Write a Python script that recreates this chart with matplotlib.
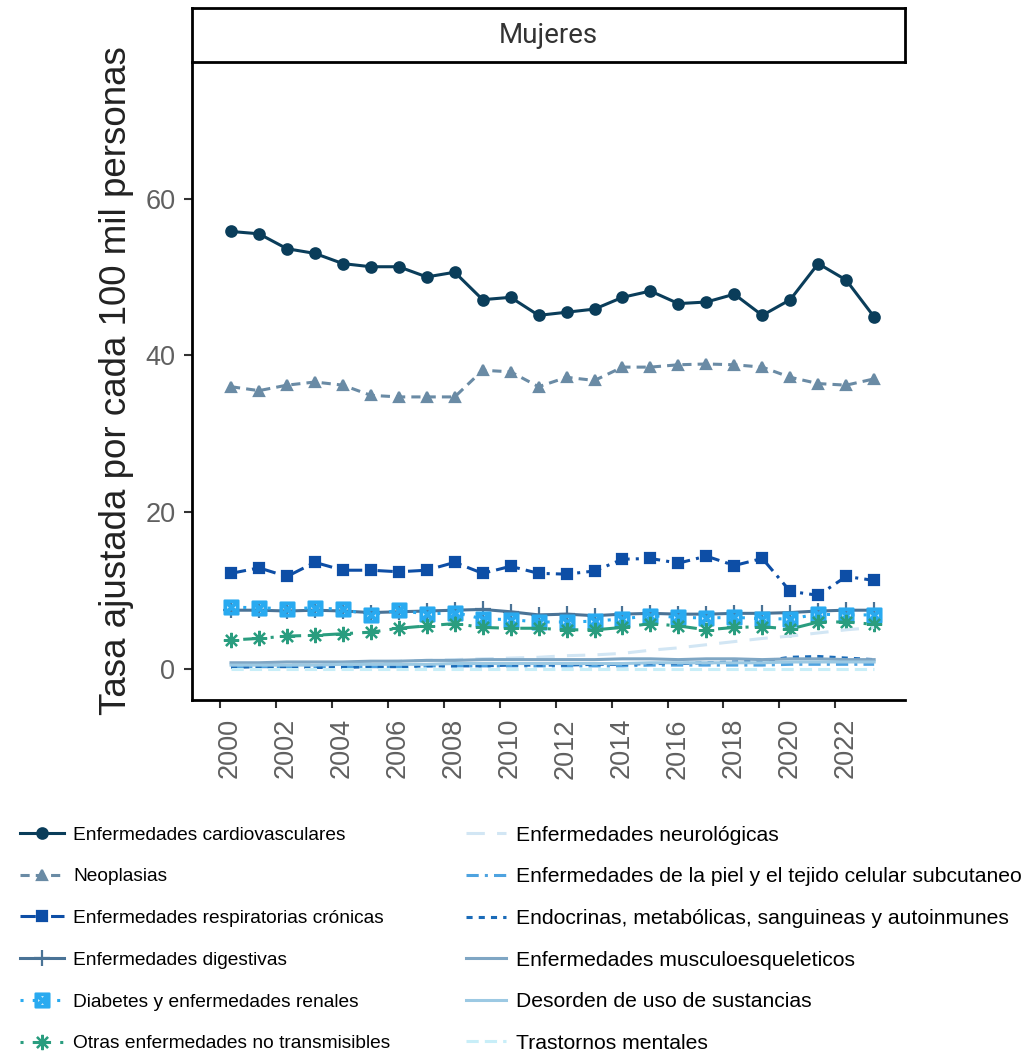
import numpy as np
import matplotlib
matplotlib.use("Agg")
from matplotlib import pyplot as plt
from matplotlib.transforms import ScaledTranslation

years = np.arange(2000, 2024)

cardiovasculares = [55.8, 55.5, 53.6, 53.0, 51.7, 51.3, 51.3, 50.0, 50.6, 47.1, 47.4, 45.1,
                    45.5, 45.9, 47.4, 48.2, 46.6, 46.8, 47.8, 45.1, 47.1, 51.7, 49.6, 44.9]
neoplasias = [36.0, 35.5, 36.2, 36.6, 36.2, 34.9, 34.7, 34.7, 34.7, 38.1, 37.9, 36.0,
              37.2, 36.8, 38.5, 38.5, 38.8, 38.9, 38.8, 38.5, 37.2, 36.4, 36.2, 37.0]
respiratorias = [12.2, 12.9, 11.8, 13.6, 12.6, 12.6, 12.4, 12.6, 13.6, 12.2, 13.1, 12.2,
                 12.1, 12.5, 14.0, 14.1, 13.5, 14.4, 13.2, 14.1, 9.9, 9.4, 11.8, 11.3]
digestivas = [7.5, 7.5, 7.4, 7.5, 7.4, 7.2, 7.3, 7.4, 7.5, 7.6, 7.3, 6.9,
              7.0, 6.8, 7.0, 7.1, 7.0, 7.0, 7.1, 7.1, 7.2, 7.4, 7.5, 7.5]
diabetes = [7.9, 7.8, 7.7, 7.8, 7.6, 6.9, 7.5, 7.0, 7.2, 6.4, 6.3, 6.0,
            6.0, 6.1, 6.4, 6.8, 6.6, 6.5, 6.6, 6.4, 6.4, 7.0, 6.9, 6.9]
otras = [3.7, 3.9, 4.2, 4.3, 4.5, 4.7, 5.2, 5.5, 5.8, 5.3, 5.2, 5.2,
         5.0, 5.0, 5.3, 5.8, 5.5, 5.0, 5.3, 5.4, 5.1, 6.0, 6.0, 5.7]
neurologicas = [0.4, 0.5, 0.6, 0.7, 0.8, 0.9, 1.0, 1.1, 1.2, 1.3, 1.4, 1.5,
                1.7, 1.8, 2.0, 2.4, 2.7, 3.1, 3.5, 3.9, 4.2, 4.6, 5.0, 5.3]
piel = [0.3, 0.3, 0.3, 0.3, 0.3, 0.3, 0.3, 0.4, 0.4, 0.4, 0.4, 0.4,
        0.4, 0.4, 0.4, 0.5, 0.5, 0.5, 0.5, 0.5, 0.6, 0.6, 0.6, 0.6]
endocrinas = [0.2, 0.3, 0.3, 0.2, 0.2, 0.3, 0.3, 0.4, 0.4, 0.4, 0.5, 0.5,
              0.5, 0.6, 0.6, 0.7, 0.7, 0.8, 0.9, 1.0, 1.5, 1.6, 1.4, 1.2]
musculo = [0.8, 0.8, 0.9, 0.9, 0.9, 1.0, 1.0, 1.1, 1.1, 1.2, 1.2, 1.2,
           1.2, 1.2, 1.3, 1.3, 1.2, 1.3, 1.3, 1.2, 1.3, 1.3, 1.2, 1.2]
sustancias = [0.5, 0.5, 0.5, 0.5, 0.6, 0.6, 0.6, 0.6, 0.7, 0.7, 0.7, 0.7,
              0.7, 0.7, 0.7, 0.8, 0.8, 0.8, 0.8, 0.8, 0.9, 0.9, 0.9, 0.9]
mentales = [0.0, 0.0, 0.0, 0.0, 0.0, 0.0, 0.0, 0.0, 0.0, 0.0, 0.0, 0.0,
            0.0, 0.0, 0.0, 0.0, 0.0, 0.0, 0.0, 0.0, 0.0, 0.0, 0.0, 0.0]

series = [
    ("Enfermedades cardiovasculares", cardiovasculares, "#0a3d5a", "-", "o", 7.5),
    ("Neoplasias", neoplasias, "#6a8ba5", (0, (3, 2)), "^", 7.5),
    ("Enfermedades respiratorias crónicas", respiratorias, "#0d4ea6", (0, (5, 2, 1, 2)), "s", 7),
    ("Enfermedades digestivas", digestivas, "#4a7396", "-", "+", 11),
    ("Diabetes y enfermedades renales", diabetes, "#29aaf0", (0, (1, 3)), r"$\boxtimes$", 10),
    ("Otras enfermedades no transmisibles", otras, "#2a9d7f", (0, (1, 3, 6, 3)), (8, 2, 0), 11),
    ("Enfermedades neurológicas", neurologicas, "#d2e6f4", (0, (6, 4)), None, 0),
    ("Enfermedades de la piel y el tejido celular subcutaneo", piel, "#4ea3e0", (0, (4, 2, 1, 2)), None, 0),
    ("Endocrinas, metabólicas, sanguineas y autoinmunes", endocrinas, "#1a6bb8", (0, (2, 2)), None, 0),
    ("Enfermedades musculoesqueleticos", musculo, "#7fa6c4", "-", None, 0),
    ("Desorden de uso de sustancias", sustancias, "#9cc9e3", "-", None, 0),
    ("Trastornos mentales", mentales, "#c8eef8", (0, (4, 2)), None, 0),
]

plt.rcParams['font.family'] = ['Liberation Sans', 'DejaVu Sans']

fig = plt.figure(figsize=(10.22, 10.52), dpi=100)
ax = fig.add_axes([0.188, 0.3346, 0.6977, 0.6064])

# points sit a bit after the year mark, like in the source chart
x = years + 0.39
handles = []
for label, vals, color, ls, mk, ms in series:
    h, = ax.plot(x, vals, color=color, linestyle=ls, marker=mk, markersize=ms,
                 linewidth=2.2, markeredgewidth=1.6 if mk else 0, label=label)
    handles.append(h)

ax.set_xlim(1999.0, 2024.5)
ax.set_ylim(-3.95, 77.4)
ax.set_xticks(np.arange(2000, 2023, 2))
ax.set_yticks([0, 20, 40, 60])
ax.tick_params(axis='x', labelrotation=90, labelsize=19.5, length=6, width=1.5, color='#333333', pad=7)
ax.tick_params(axis='y', labelsize=19.5, length=6, width=1.5, color='#333333', pad=6)
shift = ScaledTranslation(10 / 100, 0, fig.dpi_scale_trans)
for t in ax.get_xticklabels():
    t.set_transform(t.get_transform() + shift)
for t in ax.get_xticklabels() + ax.get_yticklabels():
    t.set_color('#606060')
ax.spines['top'].set_visible(False)
ax.spines['right'].set_visible(False)
ax.spines['left'].set_linewidth(2)
ax.spines['bottom'].set_linewidth(2)
ax.set_ylabel("Tasa ajustada por cada 100 mil personas", fontsize=26.5, color='#222222', labelpad=8)

# panel strip
strip = fig.add_axes([0.188, 0.941, 0.6977, 0.051])
strip.set_xticks([])
strip.set_yticks([])
for s in strip.spines.values():
    s.set_linewidth(2)
strip.text(0.5, 0.5, "Mujeres", ha='center', va='center', fontsize=20,
           color='#333333', family=['Roboto', 'DejaVu Sans'])

leg1 = fig.legend(handles=handles[:6], loc='upper left', bbox_to_anchor=(0.003, 0.231),
                  frameon=False, fontsize=13.8, labelspacing=1.27, handlelength=2.3,
                  handletextpad=0.45)
fig.legend(handles=handles[6:], loc='upper left', bbox_to_anchor=(0.437, 0.233),
           frameon=False, fontsize=15.2, labelspacing=1.07, handlelength=1.9,
           handletextpad=0.47)

fig.savefig("out.png", dpi=100)
